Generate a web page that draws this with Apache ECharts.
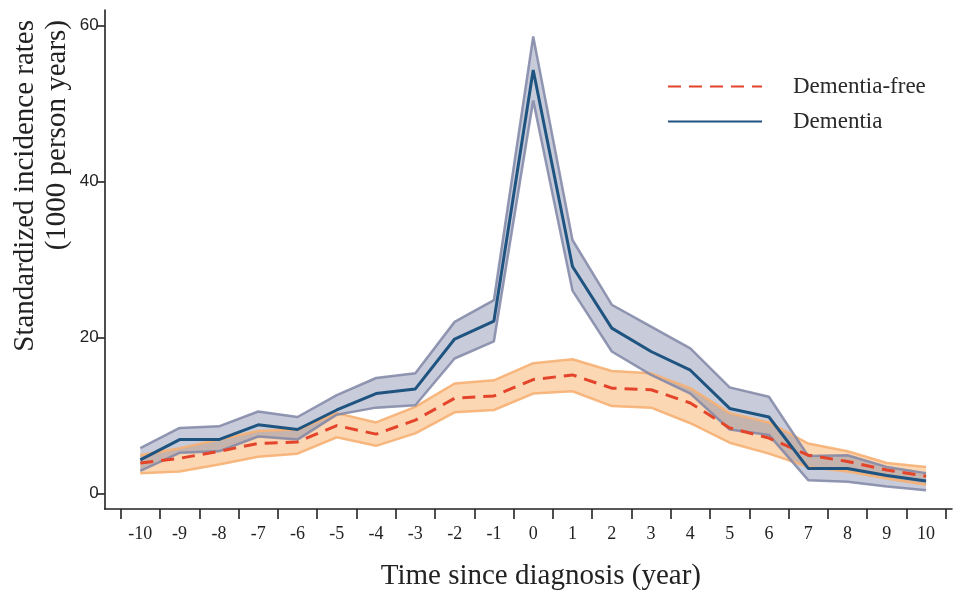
<!DOCTYPE html>
<html>
<head>
<meta charset="utf-8">
<script src="https://cdn.jsdelivr.net/npm/echarts@6/dist/echarts.min.js"></script>
<style>
	html, body { margin: 0; padding: 0; background: #fff; }
	#chart { width: 955px; height: 590px; }
</style>
</head>
<body>
<div id="chart"></div>
<script>
// years since diagnosis
const years = [-10, -9, -8, -7, -6, -5, -4, -3, -2, -1, 0, 1, 2, 3, 4, 5, 6, 7, 8, 9, 10]
const yTicks = [0, 20, 40, 60]
// tick marks sit between the year labels
const xTicks = [-10.5, -9.5, -8.5, -7.5, -6.5, -5.5, -4.5, -3.5, -2.5, -1.5, -0.5, 0.5, 1.5, 2.5, 3.5, 4.5, 5.5, 6.5, 7.5, 8.5, 9.5, 10.5]

// Dementia
const dementia = [4.3, 6.9, 6.9, 8.8, 8.2, 10.7, 12.8, 13.4, 19.8, 22.1, 54.3, 29.1, 21.2, 18.2, 15.8, 10.9, 9.8, 3.2, 3.2, 2.3, 1.6]
const dementiaLow = [2.9, 5.2, 5.4, 7.3, 6.9, 10.1, 11.0, 11.3, 17.3, 19.5, 50.4, 26.0, 18.2, 15.2, 12.8, 8.2, 7.5, 1.7, 1.5, 0.9, 0.4]
const dementiaHigh = [5.8, 8.4, 8.6, 10.5, 9.8, 12.6, 14.8, 15.4, 22.0, 24.8, 58.6, 32.5, 24.2, 21.4, 18.6, 13.6, 12.4, 4.8, 4.9, 3.4, 2.6]

// Dementia-free
const free = [3.9, 4.5, 5.4, 6.4, 6.6, 8.7, 7.6, 9.4, 12.2, 12.5, 14.6, 15.2, 13.5, 13.3, 11.6, 8.4, 7.1, 4.9, 4.1, 3.0, 2.2]
const freeLow = [2.6, 2.8, 3.7, 4.7, 5.1, 7.2, 6.1, 7.7, 10.4, 10.7, 12.8, 13.1, 11.2, 11.0, 9.0, 6.5, 5.1, 3.4, 2.8, 1.9, 1.1]
const freeHigh = [4.9, 5.8, 6.9, 8.0, 8.2, 10.3, 9.1, 11.1, 14.1, 14.5, 16.7, 17.2, 15.7, 15.4, 13.5, 10.3, 9.1, 6.4, 5.4, 3.9, 3.4]

const pairs = (arr) => years.map((y, i) => [y, arr[i]])

const serif = '"Liberation Serif", "DejaVu Serif", serif'
const sans = '"Liberation Sans", Arial, sans-serif'

// confidence band: one filled polygon + two edge lines
const band = (name, lo, hi, edge, fill) => [
	{
		name: name + '-fill',
		type: 'custom',
		silent: true,
		data: [[years[0], lo[0], hi[0]]],
		renderItem: (params, api) => {
			const top = years.map((y, i) => api.coord([y, hi[i]]))
			const bottom = years.map((y, i) => api.coord([y, lo[i]])).reverse()
			return {
				type: 'polygon',
				shape: { points: top.concat(bottom) },
				style: { fill: fill, stroke: 'none' }
			}
		}
	},
	{
		name: name + '-lo',
		type: 'line',
		data: pairs(lo),
		symbol: 'none',
		lineStyle: { color: edge, width: 2.5 },
		silent: true
	},
	{
		name: name + '-hi',
		type: 'line',
		data: pairs(hi),
		symbol: 'none',
		lineStyle: { color: edge, width: 2.5 },
		silent: true
	}
]

const chart = echarts.init(document.getElementById('chart'))
chart.setOption({
	animation: false,
	backgroundColor: '#fff',
	grid: { left: 104.7, right: 3, top: 10, bottom: 81, outerBoundsMode: 'none', containLabel: false },
	legend: {
		data: ['Dementia-free', 'Dementia'],
		orient: 'vertical',
		left: 662,
		top: 70,
		itemWidth: 94,
		itemHeight: 16,
		itemGap: 12,
		itemStyle: { opacity: 0 },
		textStyle: { fontFamily: serif, fontSize: 23, color: '#2a2a2a', padding: [0, 0, 0, 26] }
	},
	xAxis: {
		type: 'value',
		min: -10.907,
		max: 10.66,
		splitLine: { show: false },
		axisLine: { onZero: false, lineStyle: { color: '#222', width: 1.6 } },
		axisTick: { length: 10, lineStyle: { color: '#222', width: 1.6 }, customValues: xTicks },
		axisLabel: { customValues: years, fontFamily: serif, fontSize: 18, color: '#222', margin: 16 },
		name: 'Time since diagnosis (year)',
		nameLocation: 'middle',
		nameGap: 53,
		nameTextStyle: { fontFamily: serif, fontSize: 29, color: '#222', padding: [0, 0, 0, 25] }
	},
	yAxis: {
		type: 'value',
		min: -2,
		max: 62,
		splitLine: { show: false },
		axisLine: { show: true, onZero: false, lineStyle: { color: '#222', width: 1.6 } },
		axisTick: { show: true, length: 8, lineStyle: { color: '#222', width: 1.6 }, customValues: yTicks },
		axisLabel: { customValues: yTicks, fontFamily: sans, fontSize: 17, color: '#222', margin: 6 }
	},
	graphic: [
		{
			type: 'text',
			x: 9,
			y: 20,
			rotation: Math.PI / 2,
			style: {
				text: 'Standardized incidence rates\n(1000 person years)',
				fontFamily: serif,
				fontSize: 29,
				lineHeight: 32,
				fill: '#222',
				textAlign: 'right',
				textVerticalAlign: 'top'
			}
		}
	],
	series: [
		...band('free', freeLow, freeHigh, 'rgba(246,176,115,0.9)', 'rgba(250,188,130,0.6)'),
		...band('dem', dementiaLow, dementiaHigh, 'rgba(128,134,166,0.85)', 'rgba(115,125,162,0.4)'),
		{
			name: 'Dementia-free',
			type: 'line',
			data: pairs(free),
			symbol: 'none',
			itemStyle: { color: '#e4442a' },
			lineStyle: { color: '#e4442a', width: 3, type: [13, 8] }
		},
		{
			name: 'Dementia',
			type: 'line',
			data: pairs(dementia),
			symbol: 'none',
			itemStyle: { color: '#1f5480' },
			lineStyle: { color: '#1f5480', width: 3 }
		}
	]
})
</script>
</body>
</html>
